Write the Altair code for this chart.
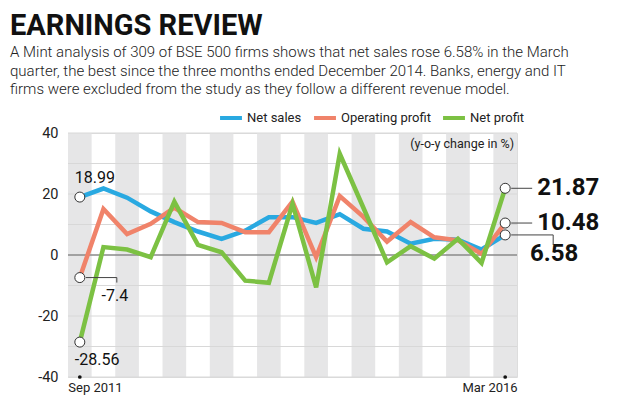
import json
import altair as alt
import pandas as pd

FONT = "Roboto, Liberation Sans Narrow, DejaVu Sans Condensed, sans-serif"

quarters = ["Sep 2011", "Dec 2011", "Mar 2012", "Jun 2012", "Sep 2012", "Dec 2012",
            "Mar 2013", "Jun 2013", "Sep 2013", "Dec 2013", "Mar 2014", "Jun 2014",
            "Sep 2014", "Dec 2014", "Mar 2015", "Jun 2015", "Sep 2015", "Dec 2015",
            "Mar 2016"]
series_names = ["Net sales", "Operating profit", "Net profit"]
series_colors = ["#29a9e1", "#f0836a", "#7cc143"]

net_sales = [18.99, 21.8, 18.8, 14.3, 10.8, 7.7, 5.3, 8.0, 12.4, 12.4, 10.5, 13.4,
             8.6, 7.7, 3.7, 5.3, 5.0, 1.8, 6.58]
operating_profit = [-7.4, 15.1, 6.9, 10.2, 15.5, 10.8, 10.5, 7.5, 7.5, 17.5, -0.7, 19.3,
                    12.5, 4.4, 10.8, 5.8, 4.8, 0.4, 10.48]
net_profit = [-28.56, 2.6, 1.8, -0.7, 17.5, 3.3, 0.9, -8.4, -9.1, 16.8, -10.6, 33.2,
              15.5, -2.4, 2.9, -1.2, 5.3, -2.6, 21.87]

y_ticks = [-40, -30, -20, -10, 0, 10, 20, 30, 40]
x_tick_idx = [0, len(quarters) - 1]

title_text = "EARNINGS REVIEW"
subtitle_lines = [
    "A Mint analysis of 309 of BSE 500 firms shows that net sales rose 6.58% in the March",
    "quarter, the best since the three months ended December 2014. Banks, energy and IT",
    "firms were excluded from the study as they follow a different revenue model.",
]
unit_note = "(y-o-y change in %)"

# ---------- tables built from the arrays ----------
n = len(quarters)
rows = []
for name, vals in zip(series_names, [net_sales, operating_profit, net_profit]):
    for i, v in enumerate(vals):
        rows.append({"idx": i, "quarter": quarters[i], "series": name, "value": v,
                     "label": f"{v:g}"})
lines_df = pd.DataFrame(rows)
ends_df = lines_df[lines_df["idx"].isin(x_tick_idx)]

stripes_df = pd.DataFrame({"x0": [i - 0.5 for i in range(0, n, 2)],
                           "x1": [i + 0.5 for i in range(0, n, 2)]})
grid_df = pd.DataFrame({"y": [t for t in y_ticks if t != 0]})
zero_df = pd.DataFrame({"y": [0]})
dots_df = pd.DataFrame({"idx": x_tick_idx, "y": [y_ticks[0]] * len(x_tick_idx)})

xscale = alt.Scale(domain=[-0.5, n - 0.5], nice=False, zero=False)
yscale = alt.Scale(domain=[y_ticks[0], y_ticks[-1]], nice=False)

x_axis = alt.Axis(values=x_tick_idx, labelExpr=f"{json.dumps(quarters)}[datum.value]",
                  title=None, ticks=False, domain=False, grid=False,
                  labelFlush=15, labelFlushOffset=12, labelFontSize=13,
                  labelPadding=4, labelColor="#222", labelFont=FONT)
y_axis = alt.Axis(values=y_ticks, labelExpr="'' + datum.value", title=None, ticks=False,
                  domain=False, grid=False, labelFontSize=14.5, labelPadding=10,
                  labelColor="#222", labelFont=FONT)

stripes = alt.Chart(stripes_df).mark_rect(color="#e6e6e7").encode(
    x=alt.X("x0:Q", scale=xscale, axis=x_axis), x2="x1:Q",
    y=alt.value(0), y2=alt.value(244))

grid = alt.Chart(grid_df).mark_rule(color="#d8d8d8", strokeWidth=1).encode(
    y=alt.Y("y:Q", scale=yscale, axis=y_axis))
zero = alt.Chart(zero_df).mark_rule(color="#8a8a8a", strokeWidth=1.3).encode(
    y=alt.Y("y:Q", scale=yscale))

lines = alt.Chart(lines_df).mark_line(strokeWidth=4.5, strokeJoin="miter").encode(
    x=alt.X("idx:Q", scale=xscale),
    y=alt.Y("value:Q", scale=yscale),
    color=alt.Color("series:N",
                    scale=alt.Scale(domain=series_names, range=series_colors),
                    sort=series_names,
                    legend=alt.Legend(orient="none", legendX=150, legendY=-28,
                                      direction="horizontal", title=None,
                                      symbolType="stroke", symbolStrokeWidth=4,
                                      symbolSize=480, labelFontSize=13,
                                      labelFont=FONT, labelColor="#222",
                                      labelOffset=3, columnPadding=4, padding=0)),
    order="idx:Q",
)


def pick(series, idx):
    return lines_df[(lines_df["series"] == series) & (lines_df["idx"] == idx)]


def hseg(df, x_off, x2_off):
    return alt.Chart(df).mark_rule(color="#444", strokeWidth=1,
                                   xOffset=x_off, x2Offset=x2_off).encode(
        x=alt.X("idx:Q", scale=xscale), x2="idx:Q", y=alt.Y("value:Q", scale=yscale))


def vseg(df, x_off, y2_off):
    return alt.Chart(df).mark_rule(color="#444", strokeWidth=1,
                                   xOffset=x_off, y2Offset=y2_off).encode(
        x=alt.X("idx:Q", scale=xscale), y=alt.Y("value:Q", scale=yscale), y2="value:Q")


def label(df, dx, dy, align, size, bold=False):
    return alt.Chart(df).mark_text(align=align, baseline="middle", dx=dx, dy=dy,
                                   fontSize=size, font=FONT, color="#111",
                                   fontWeight="bold" if bold else "normal").encode(
        x=alt.X("idx:Q", scale=xscale), y=alt.Y("value:Q", scale=yscale),
        text=alt.Text("label:N"))


last = n - 1
op0 = pick("Operating profit", 0)
ns_last = pick("Net sales", last)
op_last = pick("Operating profit", last)
np_last = pick("Net profit", last)

leaders = [
    hseg(op0, 6, 37), vseg(op0, 37, 5),
    hseg(np_last, 6, 27), hseg(op_last, 6, 27),
    hseg(ns_last, 6, 48), vseg(ns_last, 48, 10),
]

circles = alt.Chart(ends_df).mark_point(filled=True, fill="white", stroke="#333",
                                        strokeWidth=1, size=100, opacity=1).encode(
    x=alt.X("idx:Q", scale=xscale), y=alt.Y("value:Q", scale=yscale))

labels = [
    label(pick("Net sales", 0), -5, -19, "left", 16),
    label(op0, 35, 18, "center", 16),
    label(pick("Net profit", 0), -5, 18, "left", 16),
    label(np_last, 32, 0, "left", 24, True),
    label(op_last, 32, 0, "left", 24, True),
    label(ns_last, 49, 19, "center", 24, True),
]

dots = alt.Chart(dots_df).mark_point(filled=True, color="#111", size=14, opacity=1).encode(
    x=alt.X("idx:Q", scale=xscale), y=alt.Y("y:Q", scale=yscale))

note = alt.Chart(pd.DataFrame({"t": [unit_note]})).mark_text(
    align="right", baseline="middle", fontSize=12.5, font=FONT, color="#222").encode(
    x=alt.value(446), y=alt.value(11), text="t:N")

chart = alt.layer(stripes, grid, zero, lines, *leaders, circles, *labels, dots, note).properties(
    width=449, height=244,
    padding={"left": 60, "top": 125, "right": 96, "bottom": 18},
    autosize=alt.AutoSizeParams(type="none"),
    title=alt.TitleParams(text=title_text, subtitle=subtitle_lines, anchor="start",
                          frame="group", dx=-58, offset=8, font=FONT, fontSize=29,
                          fontWeight="bold", color="#111", subtitleFont=FONT,
                          subtitleFontSize=15, subtitleFontWeight=300,
                          subtitleColor="#222",
                          subtitleLineHeight=18.5, subtitlePadding=4),
).configure_view(stroke=None).configure(background="white")

chart.save("out.html", embed_options={"renderer": "svg", "actions": False})
